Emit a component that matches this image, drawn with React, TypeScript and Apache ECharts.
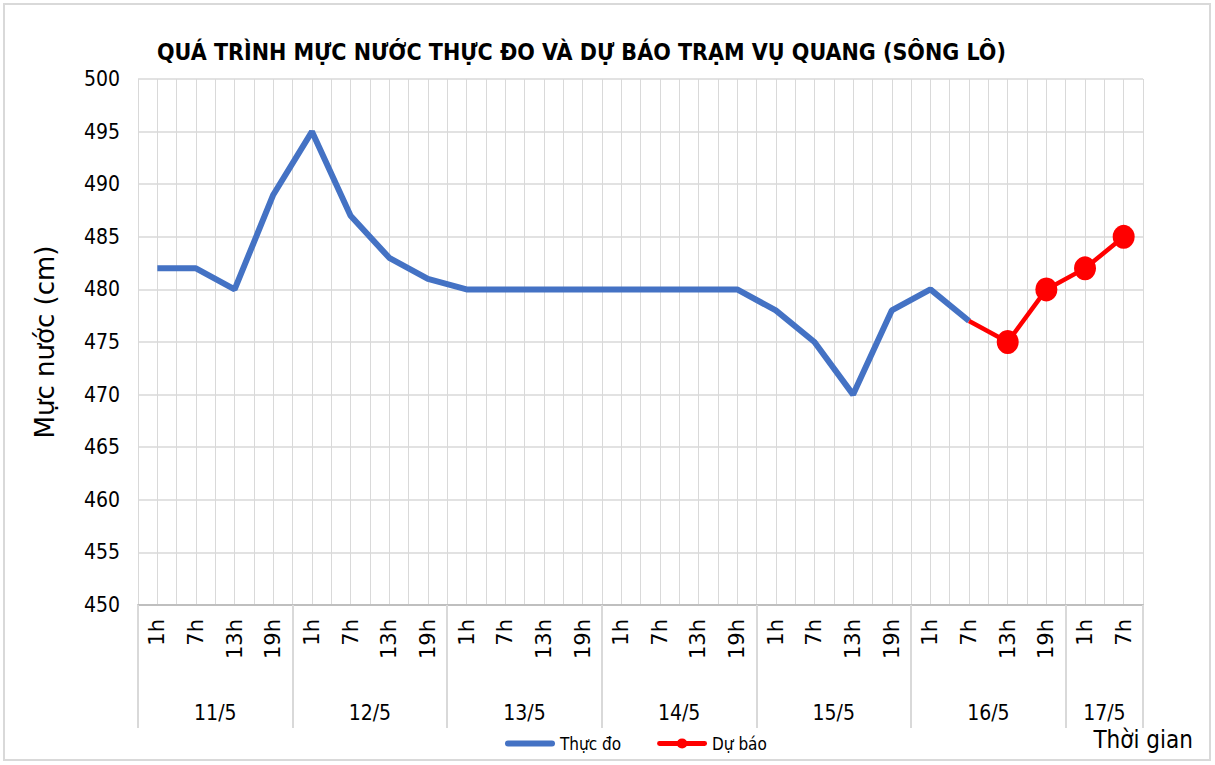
import React, { useEffect, useRef } from "react";
import * as echarts from "echarts";

const hourLabels = [
  "1h", "7h", "13h", "19h",
  "1h", "7h", "13h", "19h",
  "1h", "7h", "13h", "19h",
  "1h", "7h", "13h", "19h",
  "1h", "7h", "13h", "19h",
  "1h", "7h", "13h", "19h",
  "1h", "7h",
];
const dayLabels = ["11/5", "12/5", "13/5", "14/5", "15/5", "16/5", "17/5"];
const daySizes = [4, 4, 4, 4, 4, 4, 2];

const measured: (number | null)[] = [
  482, 482, 480, 489,
  495, 487, 483, 481,
  480, 480, 480, 480,
  480, 480, 480, 480,
  478, 475, 470, 478,
  480, 477, null, null,
  null, null,
];
const forecast: (number | null)[] = [
  null, null, null, null,
  null, null, null, null,
  null, null, null, null,
  null, null, null, null,
  null, null, null, null,
  null, 477, 475, 480,
  482, 485,
];

const yMin = 450;
const yMax = 500;
const yStep = 5;

const NARROW = '"Liberation Sans Narrow", "DejaVu Sans Condensed", sans-serif';

export default function App() {
  const ref = useRef<HTMLDivElement>(null);
  useEffect(() => {
    if (!ref.current) return;
    const chart = echarts.init(ref.current, undefined, { renderer: "svg" });

    const n = hourLabels.length;
    const boundaries: number[] = [0];
    const centers: number[] = [];
    let acc = 0;
    daySizes.forEach((s) => {
      centers.push(acc + s / 2);
      acc += s;
      boundaries.push(acc);
    });

    let firstForecast = true;
    const forecastData = forecast.map((v) => {
      if (v === null) return null;
      if (firstForecast) {
        firstForecast = false;
        return { value: v, symbol: "none" };
      }
      return v;
    });

    chart.setOption({
      animation: false,
      backgroundColor: "#ffffff",
      title: {
        text: "QUÁ TRÌNH MỰC NƯỚC THỰC ĐO VÀ DỰ BÁO TRẠM VỤ QUANG (SÔNG LÔ)",
        left: 152,
        top: 35,
        textStyle: {
          fontFamily: NARROW,
          fontWeight: "bold",
          fontSize: 23,
          color: "#000000",
        },
      },
      legend: {
        left: 500,
        top: 730,
        itemWidth: 50,
        itemHeight: 10,
        itemGap: 36,
        textStyle: { fontFamily: NARROW, fontSize: 17, color: "#000" },
        data: [
          { name: "Thực đo", icon: "path://M3,2 H47 A3,3 0 0,1 47,8 H3 A3,3 0 0,1 3,2 Z" },
          {
            name: "Dự báo",
            icon: "path://M2,2.5 H48 A2.5,2.5 0 0,1 48,7.5 H2 A2.5,2.5 0 0,1 2,2.5 Z M19.5,5 A5.5,5 0 1,1 30.5,5 A5.5,5 0 1,1 19.5,5 Z",
          },
        ],
      },
      grid: { left: 138, right: 72, top: 79, bottom: 160, containLabel: false },
      xAxis: [
        {
          type: "category",
          data: hourLabels,
          boundaryGap: true,
          axisLine: { show: true, lineStyle: { color: "#bfbfbf", width: 2 } },
          axisTick: { show: false },
          splitLine: { show: false },
          axisLabel: {
            interval: 0,
            rotate: 90,
            margin: 14,
            fontFamily: '"DejaVu Sans", sans-serif',
            fontSize: 21,
            color: "#000",
          },
        },
        {
          type: "value",
          min: 0,
          max: n * 2,
          interval: 1,
          show: true,
          axisLine: { show: false },
          axisTick: { show: false },
          axisLabel: { show: false },
          splitLine: { show: true, lineStyle: { color: "#d9d9d9", width: 1 } },
        },
        {
          type: "value",
          min: 0,
          max: n,
          position: "bottom",
          axisLine: { show: false },
          splitLine: { show: false },
          axisTick: {
            show: true,
            customValues: boundaries,
            length: 123,
            lineStyle: { color: "#d9d9d9", width: 2 },
          },
          axisLabel: {
            show: true,
            customValues: centers,
            margin: 97,
            fontFamily: NARROW,
            fontSize: 21,
            color: "#000",
            formatter: (v: number) => {
              const i = centers.findIndex((c) => Math.abs(c - v) < 1e-6);
              return i >= 0 ? dayLabels[i] : "";
            },
          },
        },
      ],
      yAxis: {
        type: "value",
        min: yMin,
        max: yMax,
        interval: yStep,
        name: "Mực nước (cm)",
        nameLocation: "middle",
        nameGap: 80,
        nameRotate: 90,
        nameTextStyle: { fontFamily: '"DejaVu Sans", sans-serif', fontSize: 26, color: "#000" },
        axisLine: { show: false },
        axisTick: { show: false },
        axisLabel: { fontFamily: NARROW, fontSize: 21, color: "#000", margin: 18 },
        splitLine: { show: true, lineStyle: { color: "#d9d9d9", width: 1.5 } },
      },
      graphic: [
        {
          type: "rect",
          shape: { x: 4, y: 4, width: 1206, height: 756 },
          style: { fill: "none", stroke: "#d9d9d9", lineWidth: 2 },
          silent: true,
        },
        {
          type: "text",
          right: 22,
          top: 728,
          style: { text: "Thời gian", fontFamily: NARROW, fontSize: 24, fill: "#000" },
        },
      ],
      series: [
        {
          name: "Thực đo",
          type: "line",
          xAxisIndex: 0,
          data: measured,
          symbol: "none",
          lineStyle: { color: "#4472c4", width: 6 },
          itemStyle: { color: "#4472c4" },
          connectNulls: false,
        },
        {
          name: "Dự báo",
          type: "line",
          xAxisIndex: 0,
          data: forecastData,
          symbol: "circle",
          symbolSize: [22, 24],
          lineStyle: { color: "#ff0000", width: 4.5 },
          itemStyle: { color: "#ff0000" },
          connectNulls: false,
        },
      ],
    });
    return () => chart.dispose();
  }, []);
  return (
    <div
      ref={ref}
      style={{ position: "absolute", left: 0, top: 0, width: 1215, height: 765 }}
    />
  );
}
